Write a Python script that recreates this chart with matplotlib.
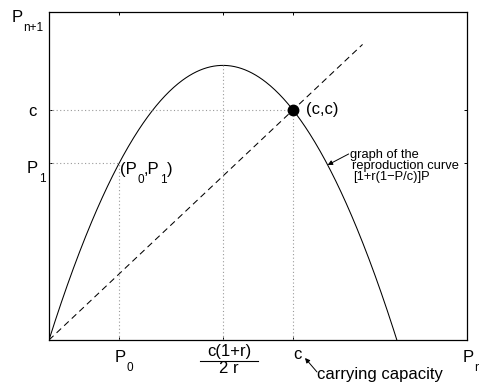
import numpy as np
import matplotlib
matplotlib.use('Agg')
import matplotlib.pyplot as plt
from matplotlib.transforms import offset_copy

plt.rcParams['font.family'] = ['Liberation Sans', 'DejaVu Sans']

# model parameters (carrying capacity c, growth rate r)
c = 1.0
r = 2.35
P0 = 0.287
x_max = 1.713
y_max = 1.426
diag_end = 1.285
arrow_P = 1.142


def reproduction(P):
    return (1 + r * (1 - P / c)) * P


P_vertex = c * (1 + r) / (2 * r)
P_zero = c * (1 + r) / r
P1 = reproduction(P0)

fig = plt.figure(figsize=(4.79, 3.88), dpi=100)
ax = fig.add_axes([49 / 479, 48 / 388, 418 / 479, 328 / 388])

P = np.linspace(0, P_zero, 400)
ax.plot(P, reproduction(P), color='black', lw=0.75)
ax.plot([0, diag_end], [0, diag_end], color='black', lw=0.75, dashes=(6, 4))

dot_kw = dict(color='0.6', lw=0.8, linestyle=(0, (1, 2.2)))
ax.plot([0, c], [c, c], **dot_kw)
ax.plot([c, c], [0, c], **dot_kw)
ax.plot([0, P0], [P1, P1], **dot_kw)
ax.plot([P0, P0], [0, P1], **dot_kw)
ax.plot([P_vertex, P_vertex], [0, reproduction(P_vertex)], **dot_kw)

ax.plot(c, c, 'o', color='black', markersize=7.5)

ax.set_xlim(0, x_max)
ax.set_ylim(0, y_max)
ax.set_xticks([P0, P_vertex, c])
ax.set_yticks([P1, c, y_max])
ax.set_xticklabels([])
ax.set_yticklabels([])
ax.tick_params(direction='in', length=2.5, width=0.7, top=True, right=True)
for s in ax.spines.values():
    s.set_linewidth(0.9)


def rich_label(xy, parts, dx, dy, size=12, sub_size=8.5, sub_drop=-6):
    """Text with lowered subscripts; parts = [(text, is_sub), ...], left edge at offset."""
    first = ax.annotate(parts[0][0], xy, xycoords='data', xytext=(dx, dy),
                        textcoords='offset pixels', ha='left', va='baseline',
                        fontsize=size, annotation_clip=False)
    prev = first
    for txt, is_sub in parts[1:]:
        if is_sub:
            t = ax.annotate(txt, (1, 0), xycoords=(prev, first), xytext=(0.5, sub_drop),
                            textcoords='offset pixels', ha='left', va='baseline',
                            fontsize=sub_size, annotation_clip=False)
        else:
            t = ax.annotate(txt, (1, 0), xycoords=(prev, first), xytext=(0, 0),
                            textcoords='offset pixels', ha='left', va='bottom',
                            fontsize=size, annotation_clip=False)
        prev = t
    return first


# axis labels
rich_label((0, y_max), [('P', False), ('n+1', True)], -37, -10)
rich_label((0, P1), [('P', False), ('1', True)], -22, -10)
ax.annotate('c', (0, c), xytext=(-12, -6), textcoords='offset pixels',
            ha='right', va='baseline', fontsize=12, annotation_clip=False)
rich_label((P0, 0), [('P', False), ('0', True)], -4, -22)
rich_label((x_max, 0), [('P', False), ('n', True)], -4, -22)
ax.annotate('c', (c, 0), xytext=(0, -19), textcoords='offset pixels',
            ha='left', va='baseline', fontsize=12, annotation_clip=False)

# fraction label under the vertex
ax.annotate('c(1+r)', (P_vertex, 0), xytext=(6.5, -16), textcoords='offset pixels',
            ha='center', va='baseline', fontsize=12, annotation_clip=False)
ax.annotate('2 r', (P_vertex, 0), xytext=(6, -33), textcoords='offset pixels',
            ha='center', va='baseline', fontsize=12, annotation_clip=False)
bar_tr = offset_copy(ax.transData, fig=fig, x=0, y=-21, units='dots')
px_per_x = ax.bbox.width / x_max
ax.plot([P_vertex - 23 / px_per_x, P_vertex + 35 / px_per_x], [0, 0],
        color='black', lw=0.8, transform=bar_tr, clip_on=False)

# point annotations
ax.annotate('(c,c)', (c, c), xytext=(13, 0), textcoords='offset pixels',
            ha='left', va='center', fontsize=12)
rich_label((P0, P1), [('(P', False), ('0', True), (',P', False), ('1', True), (')', False)],
           1, -11)

# reproduction curve label
ax.annotate('', (arrow_P, reproduction(arrow_P)), xytext=(21, 11),
            textcoords='offset pixels',
            arrowprops=dict(arrowstyle='-|>', color='black', lw=0.7,
                            mutation_scale=7, shrinkA=0, shrinkB=0))
ax.annotate('graph of the', (arrow_P, reproduction(arrow_P)), xytext=(22, 10),
            textcoords='offset pixels', ha='left', va='center', fontsize=9.3,
            annotation_clip=False)
ax.annotate('reproduction curve', (arrow_P, reproduction(arrow_P)), xytext=(24, -1),
            textcoords='offset pixels', ha='left', va='center', fontsize=9.3,
            annotation_clip=False)
ax.annotate('[1+r(1\u2212P/c)]P', (arrow_P, reproduction(arrow_P)), xytext=(25, -12),
            textcoords='offset pixels', ha='left', va='center', fontsize=9.3,
            annotation_clip=False)

# carrying capacity label
cap_tr = offset_copy(ax.transData, fig=fig, x=12, y=-18, units='dots')
ax.annotate('', (c, 0), xycoords=cap_tr, xytext=(12, -14), textcoords='offset pixels',
            arrowprops=dict(arrowstyle='-|>', color='black', lw=0.7,
                            mutation_scale=7, shrinkA=0, shrinkB=0),
            annotation_clip=False)
ax.annotate('carrying capacity', (c, 0), xytext=(24, -35), textcoords='offset pixels',
            ha='left', va='center', fontsize=12, annotation_clip=False)

fig.savefig('out.png', dpi=100)
